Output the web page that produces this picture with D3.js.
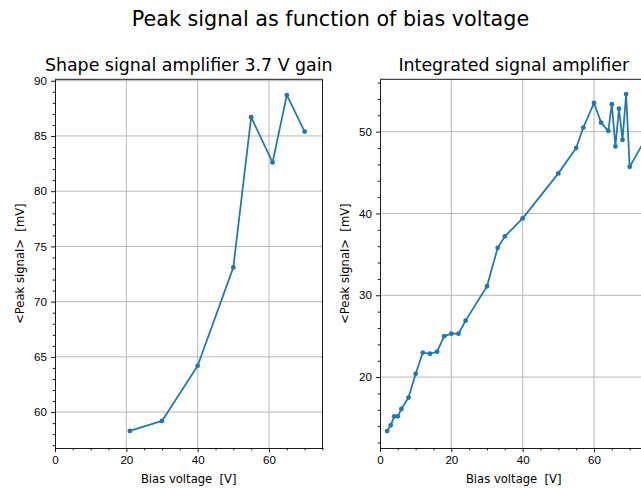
<!DOCTYPE html>
<html>
<head>
<meta charset="utf-8">
<script src="https://cdn.jsdelivr.net/npm/d3@7"></script>
<style>
  body { margin: 0; background: #fff; }
  svg { display: block; font-family: "DejaVu Sans", sans-serif; }
  svg text { white-space: pre; }
  .tick text { font-size: 11.6px; fill: #000; }
  .domain { stroke: #000; stroke-width: 0.9; }
  .tick line { stroke: #000; stroke-width: 0.9; }
</style>
</head>
<body>
<svg id="Target" width="641" height="488"></svg>
<script>
// Shape signal amplifier (left panel)
const shapeBias = [21, 30, 40, 50, 55, 61, 65, 70];
const shapePeak = [58.3, 59.2, 64.2, 73.1, 86.7, 82.6, 88.7, 85.4];

// Integrated signal amplifier (right panel)
const intBias = [2, 3, 4, 5, 6, 8, 10, 12, 14, 16, 18, 20, 22, 24, 30, 33, 35, 40,
  50, 55, 57, 60, 62, 64, 65, 66, 67, 68, 69, 70, 74];
const intPeak = [13.4, 14.1, 15.2, 15.2, 16.1, 17.5, 20.4, 23.0, 22.85, 23.1, 25.0, 25.3, 25.3, 26.9, 31.1, 35.8, 37.2, 39.4,
  44.9, 48.0, 50.5, 53.5, 51.1, 50.1, 53.35, 48.2, 52.8, 49.0, 54.6, 45.7, 48.8];

const xTicks = [0, 20, 40, 60];
const xMinor = [5, 10, 15, 25, 30, 35, 45, 50, 55, 65, 70, 75];
const shapeTicks = [60, 65, 70, 75, 80, 85, 90];
const intTicks = [20, 30, 40, 50];

const svg = d3.select("#Target");
const blue = "#1f77b4";

svg.append("text")
  .attr("x", 330.5).attr("y", 26)
  .attr("text-anchor", "middle")
  .attr("font-size", 20.7)
  .text("Peak signal as function of bias voltage");

const axTop = 79.3, axBottom = 448;

const panel = (opts) => {
  const x = d3.scaleLinear().domain([0, 75]).range([opts.left, opts.left + 267.5]);
  const y = d3.scaleLinear().domain(opts.yDomain).range([axBottom, axTop]);
  const g = svg.append("g");

  // grid
  g.selectAll("line.gx").data(xTicks.filter(d => d > 0)).enter().append("line")
    .attr("x1", d => x(d)).attr("x2", d => x(d))
    .attr("y1", axTop).attr("y2", axBottom)
    .attr("stroke", "#b0b0b0").attr("stroke-width", 0.9);
  g.selectAll("line.gy").data(opts.yTicks).enter().append("line")
    .attr("x1", x(0)).attr("x2", x(75))
    .attr("y1", d => y(d)).attr("y2", d => y(d))
    .attr("stroke", "#b0b0b0").attr("stroke-width", 0.9);

  // minor ticks
  g.append("g").attr("transform", `translate(0,${axBottom})`)
    .call(d3.axisBottom(x).tickValues(xMinor).tickSize(2.3).tickFormat(""))
    .call(a => a.select(".domain").remove());
  g.append("g").attr("transform", `translate(${opts.left},0)`)
    .call(d3.axisLeft(y).tickValues(opts.yMinor).tickSize(2.3).tickFormat(""))
    .call(a => a.select(".domain").remove());

  // major axes
  g.append("g").attr("transform", `translate(0,${axBottom})`)
    .call(d3.axisBottom(x).tickValues(xTicks).tickSize(4).tickPadding(4).tickSizeOuter(0));
  g.append("g").attr("transform", `translate(${opts.left},0)`)
    .call(d3.axisLeft(y).tickValues(opts.yTicks).tickSize(4).tickPadding(4).tickSizeOuter(0));

  // top and right spines
  g.append("line").attr("x1", x(0)).attr("x2", x(75)).attr("y1", axTop).attr("y2", axTop)
    .attr("stroke", "#000").attr("stroke-width", 0.9);
  g.append("line").attr("x1", x(75)).attr("x2", x(75)).attr("y1", axTop).attr("y2", axBottom)
    .attr("stroke", "#000").attr("stroke-width", 0.9);

  const pts = opts.xs.map((v, i) => [v, opts.ys[i]]);
  g.append("path")
    .attr("d", d3.line().x(d => x(d[0])).y(d => y(d[1]))(pts))
    .attr("fill", "none").attr("stroke", blue).attr("stroke-width", 1.75)
    .attr("stroke-linejoin", "round");
  g.selectAll("circle").data(pts).enter().append("circle")
    .attr("cx", d => x(d[0])).attr("cy", d => y(d[1]))
    .attr("r", 2.4).attr("fill", blue);

  // titles and labels
  g.append("text")
    .attr("x", x(37.5)).attr("y", axTop - 8.5)
    .attr("text-anchor", "middle").attr("font-size", 17.4)
    .text(opts.title);
  g.append("text")
    .attr("x", x(37.5)).attr("y", 482.5)
    .attr("text-anchor", "middle").attr("font-size", 11.6)
    .text("Bias voltage  [V]");
  g.append("text")
    .attr("transform", `translate(${opts.ylabelX},${(axTop + axBottom) / 2}) rotate(-90)`)
    .attr("text-anchor", "middle").attr("font-size", 11.6)
    .text("<Peak signal>  [mV]");
};

panel({
  left: 55, yDomain: [56.75, 90.13], yTicks: shapeTicks,
  yMinor: d3.range(57, 91, 1).filter(d => d % 5 !== 0),
  xs: shapeBias, ys: shapePeak,
  title: "Shape signal amplifier 3.7 V gain", ylabelX: 24
});

panel({
  left: 380, yDomain: [11.33, 56.4], yTicks: intTicks,
  yMinor: d3.range(12, 57, 2).filter(d => d % 10 !== 0),
  xs: intBias, ys: intPeak,
  title: "Integrated signal amplifier", ylabelX: 349
});
</script>
</body>
</html>
